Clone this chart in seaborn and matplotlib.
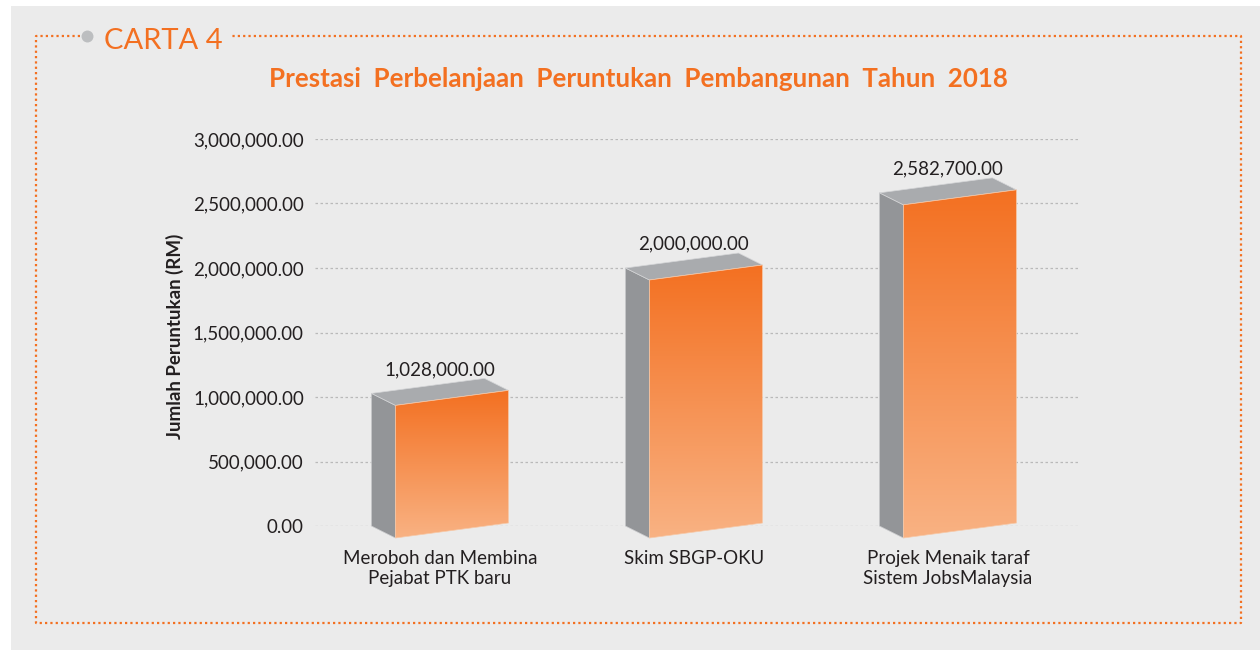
import numpy as np
import pandas as pd
import matplotlib
matplotlib.use("Agg")
import matplotlib.pyplot as plt
import seaborn as sns
from matplotlib.patches import Polygon, Rectangle
from matplotlib.lines import Line2D
from matplotlib.colors import LinearSegmentedColormap

# ---- data -------------------------------------------------------------
categories = [
    "Meroboh dan Membina\nPejabat PTK baru",
    "Skim SBGP-OKU",
    "Projek Menaik taraf\nSistem JobsMalaysia",
]
values = [1028000.00, 2000000.00, 2582700.00]
y_ticks = [0, 500000, 1000000, 1500000, 2000000, 2500000, 3000000]
title = "Prestasi  Perbelanjaan  Peruntukan  Pembangunan  Tahun  2018"
chart_tag = "CARTA 4"
y_label = "Jumlah Peruntukan (RM)"

# ---- style ------------------------------------------------------------
ORANGE = "#f37021"
ORANGE_LIGHT = "#f9b283"
SIDE = "#939598"
TOP = "#a9abae"
PANEL = "#ebebeb"
TEXT = "#231f20"
GRID = "#b9b9b9"
FS = 13.5

W, H = 1260, 650
sns.set_theme(style="white")
plt.rcParams["font.family"] = ["Lato", "DejaVu Sans"]

fig = plt.figure(figsize=(W / 100, H / 100), dpi=100, facecolor="white")


def fx(x):
    return x / W


def fy(y):
    return 1 - y / H


# grey panel behind everything
fig.patches.append(Rectangle((fx(11), 0), 1 - fx(11), fy(6),
                             transform=fig.transFigure, facecolor=PANEL,
                             edgecolor="none", zorder=-10))

# dotted orange frame, open at the top-left for the tag
frame_x = [80, 36, 36, 1241, 1241, 230]
frame_y = [36, 36, 623, 623, 36, 36]
fig.add_artist(Line2D([fx(v) for v in frame_x], [fy(v) for v in frame_y],
                      transform=fig.transFigure, color=ORANGE, lw=1.6,
                      linestyle=(0, (1, 1.4)), dash_capstyle="butt",
                      solid_joinstyle="miter"))
fig.add_artist(Line2D([fx(87)], [fy(36)], transform=fig.transFigure,
                      marker="o", ms=8.6, color="#bcbec0", mec="none"))
fig.text(fx(104), fy(41), chart_tag, ha="left", va="center", fontsize=21,
         color=ORANGE, fontweight="normal")

fig.text(fx(638), fy(79), title, ha="center", va="center", fontsize=18.6,
         fontweight="bold", color=ORANGE)

# ---- axes -------------------------------------------------------------
ax = fig.add_axes([fx(315), fy(526), (1078 - 315) / W, (526 - 139) / H])
ax.set_facecolor("none")

df = pd.DataFrame({"kategori": categories, "nilai": values})
sns.barplot(data=df, x="kategori", y="nilai", ax=ax, width=0.445,
            color=ORANGE)

XLIM = (-0.492, 2.512)
YLIM = (0, 3_000_000)
ax.set_xlim(*XLIM)
ax.set_ylim(*YLIM)
ax.set_autoscale_on(False)

ppx = ax.bbox.width / (XLIM[1] - XLIM[0])
ppy = ax.bbox.height / (YLIM[1] - YLIM[0])


def dx(p):
    return p / ppx


def dy(p):
    return p / ppy


cmap = LinearSegmentedColormap.from_list("face", [ORANGE, ORANGE_LIGHT])
grad = np.linspace(0, 1, 256).reshape(-1, 1)

SHIFT, DEPTH, RISE = 12, 24, 12     # pixel geometry of the 3-D box
DROP_L, LIFT_R = 12, 3              # tilt of the front face

for bar in list(ax.patches):
    cx = bar.get_x() + bar.get_width() / 2
    h = bar.get_height()
    x0 = bar.get_x() + dx(SHIFT)
    x1 = x0 + bar.get_width()
    bl = (x0, -dy(DROP_L))
    br = (x1, dy(LIFT_R))
    tr = (x1, h + dy(LIFT_R))
    tl = (x0, h - dy(DROP_L))

    def back(p):
        return (p[0] - dx(DEPTH), p[1] + dy(RISE))

    ax.add_patch(Polygon([bl, tl, back(tl), back(bl)], closed=True,
                         facecolor=SIDE, edgecolor="#c9cacc", lw=0.5,
                         clip_on=False, zorder=3))
    ax.add_patch(Polygon([tl, tr, back(tr), back(tl)], closed=True,
                         facecolor=TOP, edgecolor="#d5d6d8", lw=0.5,
                         clip_on=False, zorder=3))
    front = Polygon([bl, br, tr, tl], closed=True, facecolor="none",
                    edgecolor="#f7c9a8", lw=0.5, clip_on=False, zorder=5)
    ax.add_patch(front)
    img = ax.imshow(grad, cmap=cmap, extent=[x0, x1, bl[1], tr[1]],
                    origin="upper", aspect="auto", interpolation="bilinear",
                    zorder=4)
    img.set_clip_path(front)
    img.set_clip_box(fig.bbox)
    bar.set_visible(False)

    ax.annotate(f"{h:,.2f}", xy=(cx, h), xytext=(0, 24),
                textcoords="offset pixels", ha="center", va="center",
                fontsize=FS, color=TEXT, annotation_clip=False)

ax.set_xlim(*XLIM)
ax.set_ylim(*YLIM)

ax.set_yticks(y_ticks)
ax.set_yticklabels([f"{t:,.2f}" for t in y_ticks])
ax.tick_params(axis="y", length=0, pad=8, labelsize=FS, labelcolor=TEXT)
ax.tick_params(axis="x", length=0, pad=17, labelsize=FS, labelcolor=TEXT)
for lbl in ax.get_xticklabels():
    lbl.set_linespacing(1.22)
ax.set_xlabel("")
ax.set_ylabel(y_label, fontsize=13.5, fontweight="bold", color=TEXT)
ax.yaxis.set_label_coords(-0.172, 0.49)

ax.set_axisbelow(True)
ax.yaxis.grid(True, color=GRID, linestyle=(0, (2, 2)), linewidth=0.9)
ax.xaxis.grid(False)
for s in ax.spines.values():
    s.set_visible(False)

fig.savefig("out.png", dpi=100, facecolor="white")
